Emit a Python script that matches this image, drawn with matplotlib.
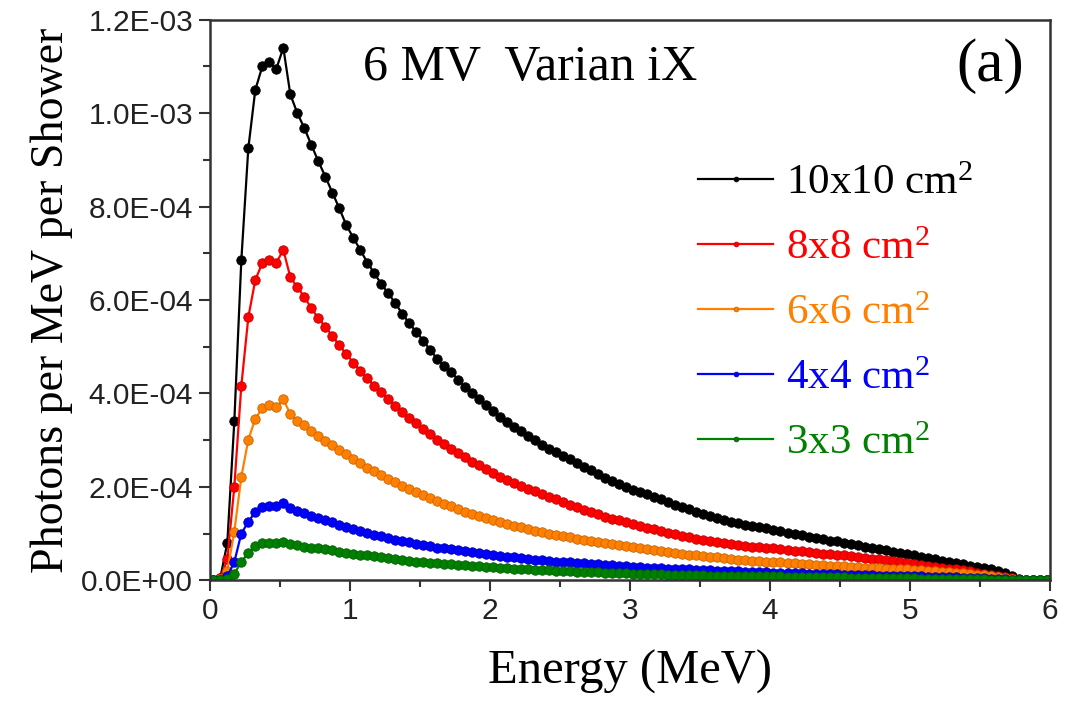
import numpy as np
import matplotlib
matplotlib.use("Agg")
import matplotlib.pyplot as plt
from matplotlib.ticker import FuncFormatter, MultipleLocator

# Energy bin centres (MeV), 0.05 MeV bins from 0 to 6 MeV
energy = np.linspace(0.025, 5.975, 120)

# Photons per MeV per shower, in units of 1E-03
f10x10 = [
    0.0, 0.005, 0.08, 0.34, 0.685, 0.925, 1.05, 1.10, 1.11, 1.095,
    1.14, 1.04, 1.00, 0.968, 0.932, 0.897, 0.864, 0.830, 0.796, 0.760,
    0.733, 0.707, 0.680, 0.657, 0.634, 0.614, 0.593, 0.570, 0.550, 0.531,
    0.513, 0.492, 0.474, 0.458, 0.445, 0.429, 0.413, 0.401, 0.389, 0.376,
    0.363, 0.350, 0.339, 0.328, 0.319, 0.309, 0.300, 0.290, 0.281, 0.275,
    0.267, 0.259, 0.251, 0.243, 0.235, 0.227, 0.219, 0.213, 0.206, 0.199,
    0.194, 0.189, 0.184, 0.179, 0.173, 0.168, 0.162, 0.157, 0.152, 0.146,
    0.141, 0.137, 0.133, 0.129, 0.125, 0.122, 0.119, 0.116, 0.113, 0.111,
    0.108, 0.105, 0.102, 0.099, 0.096, 0.093, 0.091, 0.088, 0.085, 0.083,
    0.080, 0.077, 0.075, 0.072, 0.069, 0.066, 0.064, 0.061, 0.058, 0.056,
    0.053, 0.050, 0.047, 0.045, 0.042, 0.039, 0.037, 0.034, 0.031, 0.029,
    0.026, 0.023, 0.019, 0.015, 0.009, 0.002, 0.0, 0.0, 0.0, 0.0,
]
f8x8 = [
    0.0, 0.004, 0.045, 0.20, 0.416, 0.563, 0.643, 0.679, 0.686, 0.680,
    0.707, 0.649, 0.627, 0.607, 0.582, 0.561, 0.543, 0.523, 0.503, 0.484,
    0.466, 0.449, 0.432, 0.416, 0.402, 0.388, 0.374, 0.360, 0.348, 0.336,
    0.324, 0.312, 0.301, 0.291, 0.281, 0.272, 0.263, 0.254, 0.246, 0.238,
    0.230, 0.222, 0.215, 0.208, 0.202, 0.196, 0.190, 0.184, 0.178, 0.173,
    0.167, 0.162, 0.157, 0.151, 0.146, 0.141, 0.136, 0.132, 0.128, 0.124,
    0.120, 0.116, 0.112, 0.109, 0.105, 0.102, 0.098, 0.095, 0.092, 0.089,
    0.087, 0.084, 0.082, 0.080, 0.078, 0.076, 0.074, 0.072, 0.071, 0.069,
    0.068, 0.066, 0.065, 0.063, 0.062, 0.060, 0.059, 0.057, 0.056, 0.054,
    0.053, 0.051, 0.050, 0.048, 0.046, 0.045, 0.043, 0.041, 0.039, 0.037,
    0.035, 0.033, 0.031, 0.029, 0.027, 0.025, 0.023, 0.021, 0.019, 0.016,
    0.014, 0.012, 0.010, 0.007, 0.004, 0.001, 0.0, 0.0, 0.0, 0.0,
]
f6x6 = [
    0.0, 0.003, 0.02, 0.104, 0.221, 0.301, 0.346, 0.368, 0.375, 0.371,
    0.387, 0.356, 0.341, 0.332, 0.320, 0.309, 0.299, 0.289, 0.279, 0.270,
    0.259, 0.250, 0.241, 0.233, 0.225, 0.217, 0.210, 0.202, 0.195, 0.188,
    0.182, 0.175, 0.169, 0.163, 0.158, 0.152, 0.147, 0.142, 0.138, 0.133,
    0.129, 0.125, 0.121, 0.117, 0.113, 0.110, 0.106, 0.103, 0.100, 0.097,
    0.095, 0.092, 0.089, 0.087, 0.084, 0.082, 0.079, 0.077, 0.075, 0.073,
    0.071, 0.069, 0.067, 0.065, 0.063, 0.061, 0.059, 0.057, 0.055, 0.054,
    0.052, 0.050, 0.049, 0.047, 0.046, 0.044, 0.043, 0.042, 0.041, 0.040,
    0.039, 0.038, 0.037, 0.036, 0.035, 0.034, 0.033, 0.032, 0.031, 0.030,
    0.030, 0.029, 0.028, 0.027, 0.026, 0.026, 0.025, 0.024, 0.023, 0.023,
    0.022, 0.021, 0.020, 0.019, 0.018, 0.017, 0.016, 0.015, 0.013, 0.012,
    0.011, 0.009, 0.007, 0.005, 0.003, 0.001, 0.0, 0.0, 0.0, 0.0,
]
f4x4 = [
    0.0, 0.001, 0.008, 0.039, 0.100, 0.125, 0.146, 0.156, 0.159, 0.159,
    0.166, 0.154, 0.148, 0.143, 0.137, 0.134, 0.129, 0.124, 0.119, 0.114,
    0.109, 0.105, 0.101, 0.097, 0.094, 0.090, 0.087, 0.084, 0.081, 0.078,
    0.075, 0.073, 0.070, 0.068, 0.066, 0.064, 0.062, 0.060, 0.058, 0.056,
    0.054, 0.052, 0.050, 0.049, 0.047, 0.046, 0.044, 0.043, 0.042, 0.040,
    0.039, 0.038, 0.037, 0.036, 0.035, 0.034, 0.033, 0.032, 0.031, 0.030,
    0.029, 0.028, 0.027, 0.027, 0.026, 0.025, 0.024, 0.024, 0.023, 0.022,
    0.022, 0.021, 0.020, 0.020, 0.019, 0.019, 0.018, 0.018, 0.017, 0.017,
    0.016, 0.016, 0.015, 0.015, 0.015, 0.014, 0.014, 0.013, 0.013, 0.013,
    0.012, 0.012, 0.011, 0.011, 0.011, 0.010, 0.010, 0.009, 0.009, 0.009,
    0.008, 0.008, 0.007, 0.007, 0.007, 0.006, 0.006, 0.005, 0.005, 0.004,
    0.004, 0.003, 0.003, 0.002, 0.001, 0.0005, 0.0, 0.0, 0.0, 0.0,
]
f3x3 = [
    0.0, 0.001, 0.003, 0.014, 0.039, 0.059, 0.073, 0.079, 0.080, 0.080,
    0.082, 0.077, 0.075, 0.072, 0.070, 0.068, 0.066, 0.064, 0.061, 0.059,
    0.057, 0.055, 0.053, 0.051, 0.049, 0.047, 0.045, 0.043, 0.042, 0.040,
    0.039, 0.037, 0.036, 0.035, 0.034, 0.033, 0.032, 0.031, 0.030, 0.029,
    0.028, 0.027, 0.026, 0.025, 0.024, 0.023, 0.022, 0.021, 0.021, 0.020,
    0.019, 0.019, 0.018, 0.018, 0.017, 0.017, 0.016, 0.016, 0.015, 0.015,
    0.014, 0.014, 0.013, 0.013, 0.013, 0.012, 0.012, 0.012, 0.011, 0.011,
    0.011, 0.010, 0.010, 0.010, 0.009, 0.009, 0.009, 0.009, 0.008, 0.008,
    0.008, 0.008, 0.007, 0.007, 0.007, 0.007, 0.006, 0.006, 0.006, 0.006,
    0.006, 0.005, 0.005, 0.005, 0.005, 0.005, 0.004, 0.004, 0.004, 0.004,
    0.004, 0.003, 0.003, 0.003, 0.003, 0.003, 0.002, 0.002, 0.002, 0.002,
    0.002, 0.001, 0.001, 0.001, 0.0005, 0.0, 0.0, 0.0, 0.0, 0.0,
]

labels = ["10x10 cm$^{2}$", "8x8 cm$^{2}$", "6x6 cm$^{2}$", "4x4 cm$^{2}$", "3x3 cm$^{2}$"]
colors = ["#000000", "#ff0000", "#ff8000", "#0000ff", "#008000"]
edge_colors = ["#000000", "#c00000", "#c86400", "#0000b0", "#006000"]
series = [f10x10, f8x8, f6x6, f4x4, f3x3]

xticks = [0, 1, 2, 3, 4, 5, 6]
title_text = "6 MV  Varian iX"
panel_text = "(a)"

plt.rcParams["mathtext.fontset"] = "custom"
plt.rcParams["mathtext.rm"] = "Liberation Serif"
plt.rcParams["mathtext.it"] = "Liberation Serif:italic"

fig = plt.figure(figsize=(10.65, 7.05), dpi=100)
ax = fig.add_axes([0.197, 0.177, 0.789, 0.795])

for vals, lab, c, ec in zip(series, labels, colors, edge_colors):
    ax.plot(energy, np.asarray(vals) * 1e-3, "-", color=c, lw=1.6, marker="o",
            markersize=6.8, markerfacecolor=c, markeredgecolor=ec,
            markeredgewidth=0.6, label=lab)

ax.set_xlim(0, 6)
ax.set_ylim(0, 1.2e-3)
ax.set_xticks(xticks)
ax.xaxis.set_minor_locator(MultipleLocator(0.5))
ax.yaxis.set_major_locator(MultipleLocator(2e-4))
ax.yaxis.set_minor_locator(MultipleLocator(1e-4))
ax.yaxis.set_major_formatter(FuncFormatter(lambda v, p: f"{v:.1E}"))

for lbl in ax.get_xticklabels() + ax.get_yticklabels():
    lbl.set_fontfamily("Liberation Sans")
    lbl.set_fontsize(21.5)
ax.tick_params(which="major", direction="out", length=8, width=1.5, colors="#333333",
               labelcolor="#222222", top=False, right=False, pad=4)
ax.tick_params(which="minor", direction="out", length=5, width=1.5, colors="#333333",
               top=False, right=False)
for sp in ax.spines.values():
    sp.set_linewidth(1.8)
    sp.set_color("#333333")

ax.set_xlabel("Energy (MeV)", fontfamily="Liberation Serif", fontsize=35, labelpad=18)
ax.set_ylabel("Photons per MeV per Shower", fontfamily="Liberation Serif", fontsize=33,
              labelpad=6)

ax.text(0.381, 0.914, title_text, transform=ax.transAxes, ha="center", va="center",
        fontfamily="Liberation Serif", fontsize=36)
ax.text(0.929, 0.918, panel_text, transform=ax.transAxes, ha="center", va="center",
        fontfamily="Liberation Serif", fontsize=44)

leg = ax.legend(loc="upper left", bbox_to_anchor=(0.581, 0.742), frameon=False,
                prop={"family": "Liberation Serif", "size": 31}, handlelength=1.75,
                handletextpad=0.3, labelspacing=0.6, borderpad=0, borderaxespad=0,
                numpoints=1, markerscale=0.5)
for txt, c in zip(leg.get_texts(), colors):
    txt.set_color(c)

fig.savefig("out.png", dpi=100)
